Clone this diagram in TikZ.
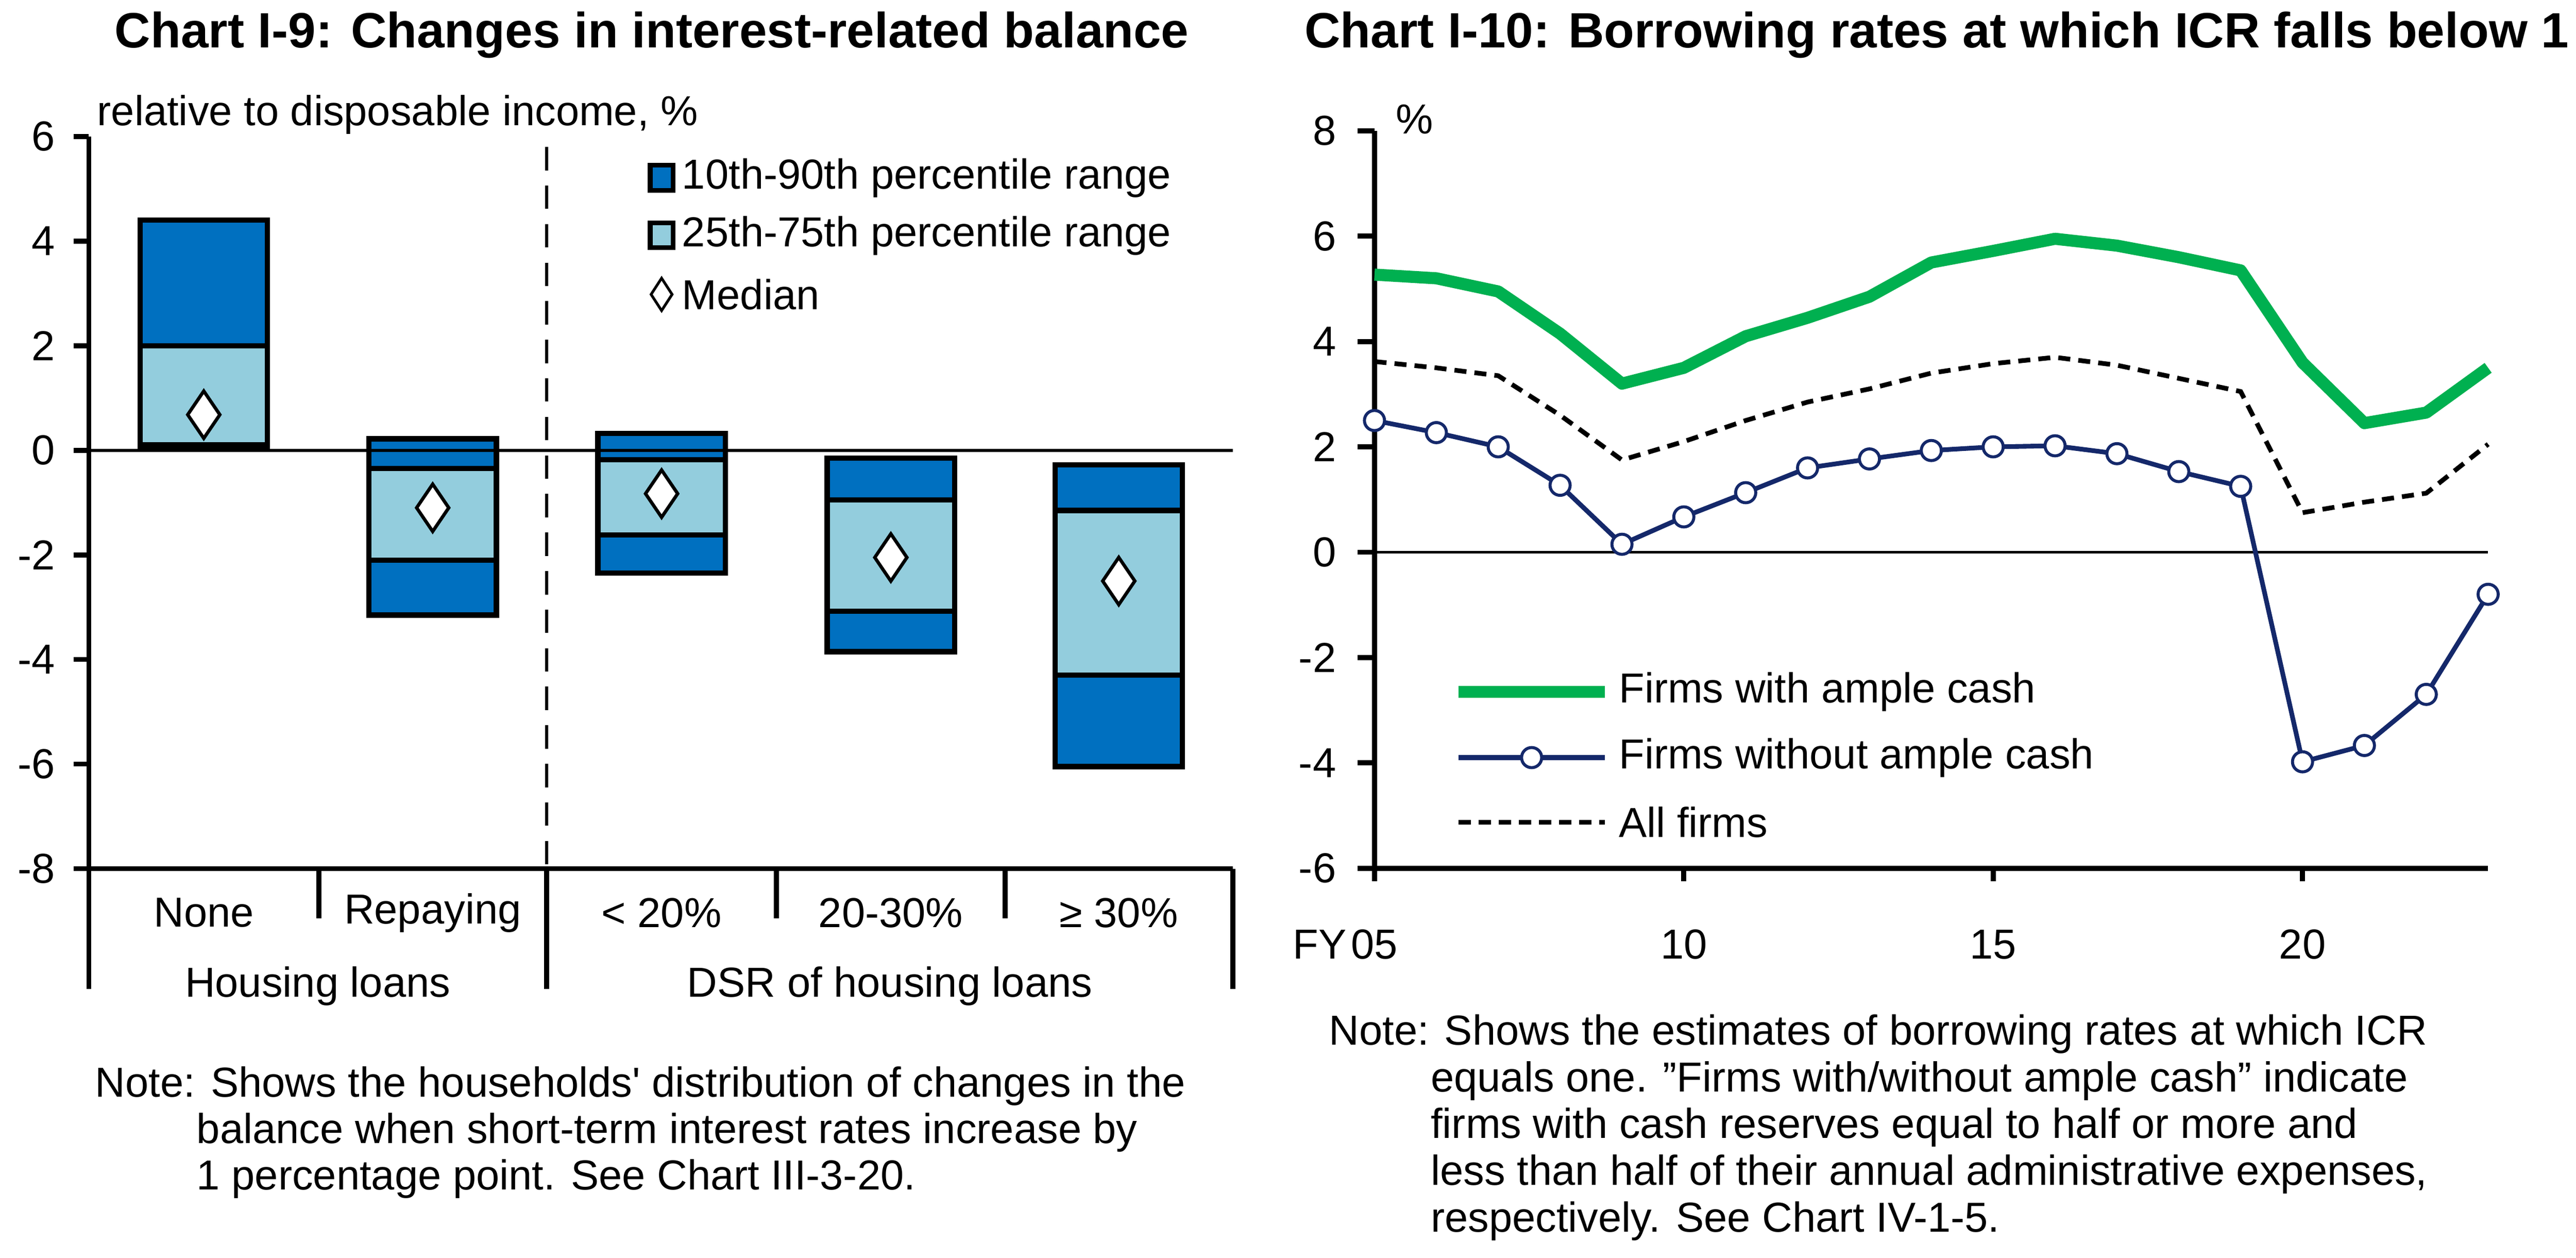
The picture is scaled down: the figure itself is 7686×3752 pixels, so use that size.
\documentclass[tikz,border=0pt]{standalone}
\usepackage{fontspec}
\setmainfont{Liberation Sans}
\usetikzlibrary{shapes.geometric}
\definecolor{darkbar}{HTML}{0070C0}
\definecolor{lightbar}{HTML}{93CDDD}
\definecolor{amplegreen}{HTML}{00B050}
\definecolor{navyline}{HTML}{14286A}
\newcommand{\BigFont}{\fontsize{125}{139}\selectfont}
\newcommand{\TitleFont}{\fontsize{148}{160}\selectfont\bfseries}
\tikzset{
  lbl/.style={inner sep=0pt, font=\BigFont},
  ttl/.style={inner sep=0pt, font=\TitleFont},
  boxline/.style={line width=16pt, draw=black},
  axisline/.style={line width=15pt},
  mdn/.style={diamond, draw=black, fill=white, line width=10pt, minimum width=100pt, minimum height=145pt, inner sep=0pt},
  ring/.style={circle, draw=navyline, fill=white, line width=9pt, minimum size=60pt, inner sep=0pt},
}
\begin{document}
\begin{tikzpicture}[x=1pt, y=-1pt]
\useasboundingbox (0,0) rectangle (7686,3752);

% titles
\node[ttl] (t9) at (1945,105) {Chart I-9: Changes in interest-related balance};
\node[ttl, anchor=east] (t10) at (7665,105) {Chart I-10: Borrowing rates at which ICR falls below 1};

% ---- left chart ----
\node[lbl, anchor=south west] (unitl) at (290,400) {relative to disposable income, \%};
\begin{scope}[shift={(0,1343)}, x=1pt, y=156pt]
  \foreach \v in {6,4,...,-8} {
    \draw[axisline] (265,\v) -- (220,\v);
    \node[lbl, anchor=east] (yl\v) at (165,\v) {\v};
  }
  \draw[black, line width=10pt, dash pattern=on 70pt off 45pt] (1631,5.8) -- (1631,-8);
  % p10, p25, p75, p90, median, centre
  \foreach \a/\b/\c/\d/\m/\cx [count=\i] in {
      0.02/0.1/2.0/4.4/0.68/608,
      -3.15/-2.1/-0.35/0.22/-1.1/1291,
      -2.35/-1.62/-0.18/0.32/-0.83/1974,
      -3.85/-3.08/-0.95/-0.15/-2.05/2658,
      -6.05/-4.3/-1.15/-0.28/-2.5/3338} {
    \filldraw[boxline, fill=darkbar] (\cx-190,\a) rectangle (\cx+190,\d);
    \filldraw[boxline, fill=lightbar] (\cx-190,\b) rectangle (\cx+190,\c);
    \node[mdn] (med\i) at (\cx,\m) {};
  }
  \draw[line width=9pt] (265,0) -- (3678,0);
  \draw[axisline] (265,6) -- (265,-8) -- (3678,-8);
  \foreach \x in {951,2317,2999} \draw[axisline] (\x,-8) -- (\x,-8.95);
  \foreach \x in {265,1631,3678} \draw[axisline] (\x,-8) -- (\x,-10.3);
  % legend
  \filldraw[line width=14pt, fill=darkbar] (1940,5.45) rectangle (2008,4.97);
  \node[lbl, anchor=west] (leg1) at (2035,5.2) {10th-90th percentile range};
  \filldraw[line width=14pt, fill=lightbar] (1940,4.35) rectangle (2008,3.87);
  \node[lbl, anchor=west] (leg2) at (2035,4.1) {25th-75th percentile range};
  \node[mdn, minimum width=66pt, minimum height=100pt, line width=8pt] (leg3m) at (1974,2.98) {};
  \node[lbl, anchor=west] (leg3) at (2035,2.98) {Median};
\end{scope}
\node[lbl] (c1) at (608,2723) {None};
\node[lbl] (c2) at (1291,2723) {Repaying};
\node[lbl] (c3) at (1974,2723) {< 20\%};
\node[lbl] (c4) at (2658,2723) {20-30\%};
\node[lbl] (c5) at (3338,2723) {≥ 30\%};
\node[lbl] (g1) at (948,2942) {Housing loans};
\node[lbl] (g2) at (2655,2942) {DSR of housing loans};
\node[lbl, anchor=west] (nl1) at (284,3239) {Note: Shows the households\textquotesingle{} distribution of changes in the};
\node[lbl, anchor=west] (nl2) at (587,3378) {balance when short-term interest rates increase by};
\node[lbl, anchor=west] (nl3) at (587,3517) {1 percentage point. See Chart III-3-20.};

% ---- right chart ----
\node[lbl, anchor=south west] (unitr) at (4165,400) {\%};
\begin{scope}[shift={(4101,1647)}, x=184.6pt, y=157.1pt]
  \foreach \v in {8,6,...,-6} {
    \draw[axisline] (0,\v) -- (-0.27,\v);
    \node[lbl, anchor=east] (yr\v) at (-0.62,\v) {\v};
  }
  \draw[line width=9pt] (0,0) -- (18,0);
  \draw[axisline] (0,8) -- (0,-6) -- (18,-6);
  \foreach \x/\t in {0/05,5/10,10/15,15/20} {
    \draw[axisline] (\x,-6) -- (\x,-6.25);
    \node[lbl] (xr\x) at (\x,-7.45) {\t};
  }
  \node[lbl, anchor=east] (fy) at (-0.45,-7.45) {FY};
  \draw[amplegreen, line width=36pt, line join=round] plot coordinates {
    (0,5.27) (1,5.2) (2,4.95) (3,4.15) (4,3.2) (5,3.5) (6,4.1) (7,4.45) (8,4.85) (9,5.5)
    (10,5.72) (11,5.95) (12,5.82) (13,5.6) (14,5.35) (15,3.6) (16,2.45) (17,2.65) (18,3.5)};
  \draw[black, line width=14pt, dash pattern=on 36pt off 24pt] plot coordinates {
    (0,3.62) (1,3.5) (2,3.35) (3,2.6) (4,1.75) (5,2.1) (6,2.5) (7,2.85) (8,3.1) (9,3.4)
    (10,3.58) (11,3.7) (12,3.55) (13,3.3) (14,3.05) (15,0.75) (16,0.95) (17,1.12) (18,2.05)};
  \draw[navyline, line width=14pt, line join=round] plot coordinates {
    (0,2.5) (1,2.27) (2,2.0) (3,1.27) (4,0.15) (5,0.67) (6,1.13) (7,1.6) (8,1.77) (9,1.93)
    (10,2.0) (11,2.02) (12,1.87) (13,1.53) (14,1.25) (15,-3.98) (16,-3.67) (17,-2.7) (18,-0.8)};
  \foreach \x/\v in {0/2.5,1/2.27,2/2.0,3/1.27,4/0.15,5/0.67,6/1.13,7/1.6,8/1.77,9/1.93,
      10/2.0,11/2.02,12/1.87,13/1.53,14/1.25,15/-3.98,16/-3.67,17/-2.7,18/-0.8}
    \node[ring] (pt\x) at (\x,\v) {};
  % legend
  \coordinate (la1) at (1.36,-2.65);
  \coordinate (lb1) at (3.72,-2.65);
  \draw[amplegreen, line width=36pt] (la1) -- (lb1);
  \node[lbl, anchor=west] (lt1) at (3.95,-2.65) {Firms with ample cash};
  \coordinate (la2) at (1.36,-3.9);
  \coordinate (lb2) at (3.72,-3.9);
  \draw[navyline, line width=14pt] (la2) -- (lb2);
  \node[ring] (lm2) at (2.54,-3.9) {};
  \node[lbl, anchor=west] (lt2) at (3.95,-3.9) {Firms without ample cash};
  \coordinate (la3) at (1.36,-5.13);
  \coordinate (lb3) at (3.72,-5.13);
  \draw[black, line width=14pt, dash pattern=on 36pt off 24pt] (la3) -- (lb3);
  \node[lbl, anchor=west] (lt3) at (3.95,-5.13) {All firms};
\end{scope}
\node[lbl, anchor=west] (nr1) at (3965,3085) {Note: Shows the estimates of borrowing rates at which ICR};
\node[lbl, anchor=west] (nr2) at (4269,3224) {equals one. \symbol{34}Firms with/without ample cash\symbol{34} indicate};
\node[lbl, anchor=west] (nr3) at (4269,3363) {firms with cash reserves equal to half or more and};
\node[lbl, anchor=west] (nr4) at (4269,3502) {less than half of their annual administrative expenses,};
\node[lbl, anchor=west] (nr5) at (4269,3642) {respectively. See Chart IV-1-5.};
\end{tikzpicture}
\end{document}
